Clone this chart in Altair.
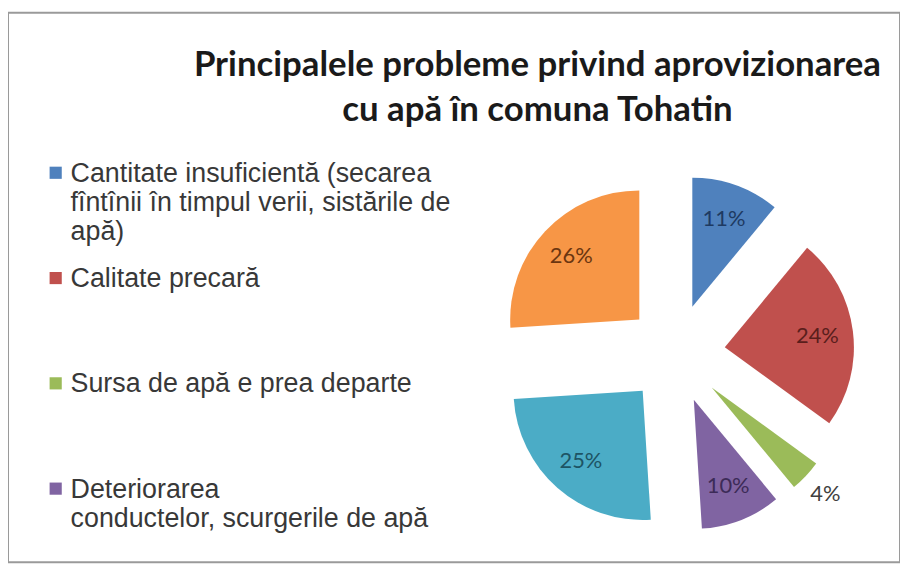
import altair as alt
import pandas as pd

# ---- data ----
categories = [
    "Cantitate insuficientă (secarea fîntînii în timpul verii, sistările de apă)",
    "Calitate precară",
    "Sursa de apă e prea departe",
    "Deteriorarea conductelor, scurgerile de apă",
    "Categoria 5",
    "Categoria 6",
]
values = [11, 24, 4, 10, 25, 26]
legend_lines = [
    ["Cantitate insuficientă (secarea", "fîntînii în timpul verii, sistările de", "apă)"],
    ["Calitate precară"],
    ["Sursa de apă e prea departe"],
    ["Deteriorarea", "conductelor, scurgerile de apă"],
]

# ---- styles ----
slice_colors = ["#4F81BD", "#C0504D", "#9BBB59", "#8064A2", "#4BACC6", "#F79646"]
label_colors = ["#1E3A62", "#5A1E1C", "#404040", "#3C2B57", "#1D5464", "#6A3510"]

W, H = 898, 553
CX, CY = 672, 343      # pie centre (plot px)
R = 130                # outer radius
D = 50                 # explosion distance
RL_IN, RL_OUT = 144, 207

pie_df = pd.DataFrame({"cat": categories, "value": values, "idx": list(range(len(values)))})
leg_df = pd.DataFrame({
    "cat": categories[:4],
    "idx": list(range(4)),
    "text": ["|".join(l) for l in legend_lines],
})

base = (
    alt.Chart(pie_df)
    .transform_window(cum="sum(value)", sort=[alt.SortField("idx")], frame=[None, 0])
    .transform_joinaggregate(total="sum(value)")
    .transform_calculate(
        a0="2*PI*(datum.cum - datum.value)/datum.total",
        a1="2*PI*datum.cum/datum.total",
    )
    .transform_calculate(mid="(datum.a0 + datum.a1)/2")
    .transform_calculate(
        cx=f"{CX} + {D}*sin(datum.mid)",
        cy=f"{CY} - {D}*cos(datum.mid)",
        lr=f"datum.value/datum.total < 0.05 ? {RL_OUT} : {RL_IN}",
        pct="format(datum.value/datum.total, '.0%')",
    )
    .transform_calculate(
        lx=f"{CX} + datum.lr*sin(datum.mid)",
        ly=f"{CY} - datum.lr*cos(datum.mid)",
    )
)

arcs = base.mark_arc(outerRadius=R).encode(
    theta=alt.Theta("a0:Q", scale=None),
    theta2="a1:Q",
    x=alt.X("cx:Q", scale=None, axis=None),
    y=alt.Y("cy:Q", scale=None, axis=None),
    color=alt.Color("cat:N", scale=alt.Scale(domain=categories, range=slice_colors), legend=None),
)

labels = base.mark_text(font="Lato", fontSize=22).encode(
    x=alt.X("lx:Q", scale=None, axis=None),
    y=alt.Y("ly:Q", scale=None, axis=None),
    text="pct:N",
    color=alt.Color("cat:N", scale=alt.Scale(domain=categories, range=label_colors), legend=None),
)

leg_y = alt.Y("idx:O", scale=alt.Scale(type="point", domain=[0, 1, 2, 3], range=[161, 479], padding=0), axis=None)

leg_base = alt.Chart(leg_df).transform_calculate(lines="split(datum.text, '|')")

leg_sq = leg_base.mark_square(size=150, opacity=1).encode(
    x=alt.value(48),
    y=leg_y,
    color=alt.Color("cat:N", scale=alt.Scale(domain=categories, range=slice_colors), legend=None),
)
leg_txt = leg_base.mark_text(
    align="left", baseline="alphabetic", dy=9, font="Liberation Sans", fontSize=27,
    lineHeight=29.5, color="#383838",
).encode(x=alt.value(63), y=leg_y, text="lines:N")

chart = (
    alt.layer(arcs, labels, leg_sq, leg_txt)
    .resolve_scale(x="independent", y="independent", color="independent")
    .properties(
        width=W,
        height=H,
        padding={"left": 0, "top": 3, "right": 0, "bottom": 0},
        autosize=alt.AutoSizeParams(type="none"),
        background="white",
        title=alt.TitleParams(
            text=["Principalele probleme privind aprovizionarea", "cu apă în comuna Tohatin"],
            font="Lato", fontSize=35, fontWeight="bold", color="#1a1a1a",
            anchor="middle", dx=84, offset=-116, lineHeight=45,
        ),
    )
    .configure_view(stroke="#9a9a9a", strokeWidth=2)
)

chart.save("out.html", embed_options={"renderer": "svg", "actions": False})
